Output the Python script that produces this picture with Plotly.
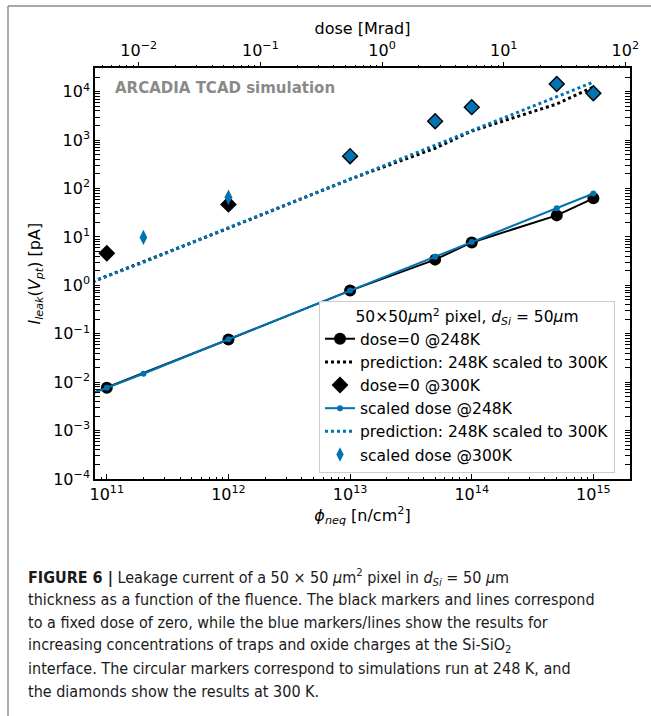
import math
import plotly.graph_objects as go

# ---------------- data ----------------
fluence_black_248 = [5e10, 1e11, 1e12, 1e13, 5e13, 1e14, 5e14, 1e15]
ileak_black_248 = [0.0039, 0.0077, 0.076, 0.78, 3.4, 7.7, 27.9, 62.7]
ileak_black_pred = [0.78, 1.54, 15.2, 156, 680, 1540, 5580, 12500]

fluence_black_300 = [1e11, 1e12, 1e13, 5e13, 1e14, 5e14, 1e15]
ileak_black_300 = [4.6, 47, 465, 2450, 4800, 14400, 9300]

fluence_blue_248 = [5e10, 1e11, 2e11, 1e12, 1e13, 5e13, 1e14, 5e14, 1e15]
ileak_blue_248 = [0.0039, 0.0077, 0.0149, 0.077, 0.78, 3.9, 7.9, 39, 79]
ileak_blue_pred = [0.79, 1.55, 3.0, 15.5, 157, 790, 1600, 7900, 15800]

fluence_blue_300 = [2e11, 1e12, 1e13, 5e13, 1e14, 5e14, 1e15]
ileak_blue_300 = [9.8, 66, 470, 2450, 4800, 14400, 9300]
blue_300_symbols = ["diamond-tall", "diamond-tall", "diamond", "diamond", "diamond", "diamond", "diamond"]
blue_300_sizes = [11, 11, 10, 10, 10, 10, 10]

dose_per_fluence = 5.46e-14  # Mrad per n/cm^2 (top axis mapping)

y_tickvals = [1e-4, 1e-3, 1e-2, 1e-1, 1e0, 1e1, 1e2, 1e3, 1e4]
y_ticktext = ["10<sup>−4</sup>", "10<sup>−3</sup>", "10<sup>−2</sup>", "10<sup>−1</sup>",
              "10<sup>0</sup>", "10<sup>1</sup>", "10<sup>2</sup>", "10<sup>3</sup>", "10<sup>4</sup>"]
x_tickvals = [1e11, 1e12, 1e13, 1e14, 1e15]
x_ticktext = ["10<sup>11</sup>", "10<sup>12</sup>", "10<sup>13</sup>", "10<sup>14</sup>", "10<sup>15</sup>"]
top_tickvals = [1e-2, 1e-1, 1e0, 1e1, 1e2]
top_ticktext = ["10<sup>−2</sup>", "10<sup>−1</sup>", "10<sup>0</sup>", "10<sup>1</sup>", "10<sup>2</sup>"]

caption_lines = [
    "<b>FIGURE 6 |</b> Leakage current of a 50 × 50 <i>μ</i>m<sup>2</sup> pixel in <i>d<sub>Si</sub></i> = 50 <i>μ</i>m",
    "thickness as a function of the fluence. The black markers and lines correspond",
    "to a fixed dose of zero, while the blue markers/lines show the results for",
    "increasing concentrations of traps and oxide charges at the Si-SiO<sub>2</sub>",
    "interface. The circular markers correspond to simulations run at 248 K, and",
    "the diamonds show the results at 300 K.",
]

BLUE = "#0173b2"
FONT = "DejaVu Sans"

# ---------------- geometry ----------------
W, H = 651, 716
L, R, T, B = 95, 21, 68, 237
pw, ph = W - L - R, H - T - B


def px_x(px):
    return (px - L) / pw


def px_y(py):
    return (H - B - py) / ph


x_range_log = [10.903, 15.301]
y_range_log = [-4.0, 4.49]
shift = math.log10(dose_per_fluence)
top_range_log = [x_range_log[0] + shift, x_range_log[1] + shift]


def minor_vals(lo, hi):
    vals = []
    for n in range(int(math.floor(lo)) - 1, int(math.ceil(hi)) + 1):
        for k in range(2, 10):
            v = k * 10 ** n
            if 10 ** lo <= v <= 10 ** hi:
                vals.append(v)
    return vals


fig = go.Figure()

fig.add_trace(go.Scatter(
    x=fluence_black_248, y=ileak_black_248, mode="lines+markers",
    name="dose=0 @248K", line=dict(color="black", width=2),
    marker=dict(symbol="circle", size=12, color="black", opacity=1)))
fig.add_trace(go.Scatter(
    x=fluence_black_248, y=ileak_black_pred, mode="lines",
    name="prediction: 248K scaled to 300K", line=dict(color="black", width=3, dash="dot")))
fig.add_trace(go.Scatter(
    x=fluence_black_300, y=ileak_black_300, mode="markers",
    name="dose=0 @300K", marker=dict(symbol="diamond", size=13, color="black", opacity=1)))
fig.add_trace(go.Scatter(
    x=fluence_blue_248, y=ileak_blue_248, mode="lines+markers",
    name="scaled dose @248K", line=dict(color=BLUE, width=2),
    marker=dict(symbol="circle", size=6, color=BLUE, opacity=1)))
fig.add_trace(go.Scatter(
    x=fluence_blue_248, y=ileak_blue_pred, mode="lines",
    name="prediction: 248K scaled to 300K", line=dict(color=BLUE, width=3, dash="dot")))
fig.add_trace(go.Scatter(
    x=fluence_blue_300, y=ileak_blue_300, mode="markers",
    name="scaled dose @300K",
    marker=dict(symbol=blue_300_symbols, size=blue_300_sizes, color=BLUE, opacity=1,
                line=dict(width=0))))
# dummy trace so the top (dose) axis is drawn
fig.add_trace(go.Scatter(x=[], y=[], xaxis="x2", yaxis="y", showlegend=False, hoverinfo="skip"))

tick_font = dict(family=FONT, size=16, color="black")
title_font = dict(family=FONT, size=16, color="black")

fig.update_layout(
    width=W, height=H, autosize=False,
    margin=dict(l=L, r=R, t=T, b=B, pad=0),
    paper_bgcolor="white", plot_bgcolor="white",
    font=dict(family=FONT, size=14, color="black"),
    xaxis=dict(
        type="log", range=x_range_log, showgrid=False, zeroline=False, automargin=False,
        showline=True, linecolor="black", linewidth=1.5, mirror=True,
        ticks="inside", ticklen=5, tickwidth=1, tickcolor="black",
        tickmode="array", tickvals=x_tickvals, ticktext=x_ticktext,
        tickfont=tick_font,
        minor=dict(ticks="inside", ticklen=2.5, tickcolor="black", tickmode="array",
                   tickvals=minor_vals(*x_range_log), showgrid=False),
        title=dict(text="<i>ϕ<sub>neq</sub></i> [n/cm<sup>2</sup>]", font=title_font, standoff=2),
    ),
    xaxis2=dict(
        type="log", range=top_range_log, overlaying="x", side="top", anchor="y",
        showgrid=False, zeroline=False, showline=False, automargin=False,
        ticks="outside", ticklen=5, tickwidth=1, tickcolor="black",
        tickmode="array", tickvals=top_tickvals, ticktext=top_ticktext,
        tickfont=tick_font,
        minor=dict(ticks="outside", ticklen=2.5, tickcolor="black", tickmode="array",
                   tickvals=minor_vals(*top_range_log), showgrid=False),
        title=dict(text="dose [Mrad]", font=title_font, standoff=0),
    ),
    yaxis=dict(
        type="log", range=y_range_log, showgrid=False, zeroline=False, automargin=False,
        showline=True, linecolor="black", linewidth=1.5, mirror="allticks",
        ticks="inside", ticklen=5, tickwidth=1, tickcolor="black",
        tickmode="array", tickvals=y_tickvals, ticktext=y_ticktext,
        tickfont=tick_font,
        minor=dict(ticks="inside", ticklen=2.5, tickcolor="black", tickmode="array",
                   tickvals=minor_vals(*y_range_log), showgrid=False),
    ),
    legend=dict(
        x=px_x(319), y=px_y(301), xanchor="left", yanchor="top",
        bgcolor="rgba(255,255,255,0.9)", bordercolor="#cccccc", borderwidth=1,
        font=dict(family=FONT, size=15.5, color="black"),
        title=dict(text="50×50<i>μ</i>m<sup>2</sup> pixel, <i>d<sub>Si</sub></i> = 50<i>μ</i>m",
                   side="top center", font=dict(family=FONT, size=15.5, color="black")),
        itemwidth=30,
    ),
    showlegend=True,
)

annotations = [
    dict(text="<b>ARCADIA TCAD simulation</b>", xref="paper", yref="paper",
         x=px_x(113), y=px_y(88), xanchor="left", yanchor="middle", showarrow=False,
         font=dict(family=FONT, size=15, color="#8a8a8a")),
    # y-axis title
    dict(text="<i>I<sub>leak</sub></i>(<i>V<sub>pt</sub></i>) [pA]", xref="paper", yref="paper",
         x=px_x(35), y=0.5, xanchor="center", yanchor="middle", textangle=-90,
         showarrow=False, font=title_font),
]
cap_y0 = 577
cap_dy = 22.8
for i, line in enumerate(caption_lines):
    annotations.append(dict(
        text=line, xref="paper", yref="paper",
        x=px_x(26), y=px_y(cap_y0 + i * cap_dy), xanchor="left", yanchor="middle",
        showarrow=False,
        font=dict(family="Liberation Sans Narrow, DejaVu Sans Condensed, Arial Narrow, sans-serif",
                  size=16, color="#1a1a1a")))
fig.update_layout(annotations=annotations)

# gray page frame (left and top)
fig.add_shape(type="line", xref="paper", yref="paper",
              x0=px_x(8), y0=px_y(716), x1=px_x(8), y1=px_y(6),
              line=dict(color="#8c8c8c", width=1.5))
fig.add_shape(type="line", xref="paper", yref="paper",
              x0=px_x(8), y0=px_y(6), x1=px_x(651), y1=px_y(6),
              line=dict(color="#8c8c8c", width=1.5))

fig.write_html("out.html",
               config={"displayModeBar": False},
               post_script="document.body.style.margin='0';document.body.style.overflow='hidden';")
